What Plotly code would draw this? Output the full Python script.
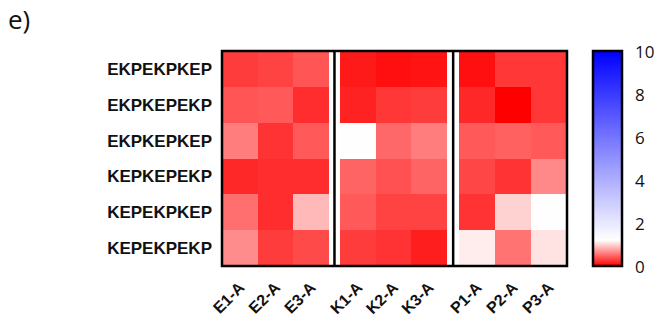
import plotly.graph_objects as go

rows = ["EKPEKPKEP", "EKPKEPEKP", "EKPKEPKEP", "KEPKEPEKP", "KEPEKPKEP", "KEPEKPEKP"]
cols_e = ["E1-A", "E2-A", "E3-A"]
cols_k = ["K1-A", "K2-A", "K3-A"]
cols_p = ["P1-A", "P2-A", "P3-A"]

vals_e = [
    [0.28, 0.31, 0.40],
    [0.40, 0.42, 0.21],
    [0.59, 0.24, 0.42],
    [0.19, 0.21, 0.21],
    [0.52, 0.21, 0.87],
    [0.66, 0.28, 0.35],
]
vals_k = [
    [0.12, 0.07, 0.09],
    [0.16, 0.26, 0.28],
    [1.25, 0.49, 0.59],
    [0.47, 0.38, 0.47],
    [0.42, 0.31, 0.31],
    [0.28, 0.24, 0.14],
]
vals_p = [
    [0.07, 0.26, 0.26],
    [0.19, 0.00, 0.26],
    [0.42, 0.45, 0.42],
    [0.33, 0.24, 0.64],
    [0.24, 0.99, 1.22],
    [1.11, 0.54, 1.07],
]
cbar_ticks = [0, 2, 4, 6, 8, 10]

colorscale = [[0.0, "rgb(255,0,0)"], [0.12, "rgb(255,255,255)"], [1.0, "rgb(0,0,255)"]]

domains = [[0.0, 0.310], [0.342, 0.652], [0.687, 1.0]]
groups = [(cols_e, vals_e), (cols_k, vals_k), (cols_p, vals_p)]

PW = 345.0
CB_X = (593 - 222) / PW
BAR_W = 29
fig = go.Figure()
for i, (cols, vals) in enumerate(groups):
    xa = "x" if i == 0 else f"x{i+1}"
    fig.add_trace(go.Heatmap(
        z=vals, x=cols, y=rows, xaxis=xa, yaxis="y",
        colorscale=colorscale, zmin=0, zmax=10,
        showscale=(i == 0),
        colorbar=dict(
            x=CB_X, xanchor="left", y=0.5, yanchor="middle",
            len=1.0, lenmode="fraction", thickness=BAR_W,
            outlinewidth=2.5, outlinecolor="black",
            tickvals=cbar_ticks, ticks="", showticklabels=False,
            xpad=0, ypad=0,
        ),
    ))

xcommon = dict(
    tickangle=-45, showgrid=False, zeroline=False, showline=False, ticks="",
    tickfont=dict(family="Liberation Sans", size=16, color="#111", weight="bold"),
    ticklabelstandoff=8,
)
fig.update_layout(
    width=659, height=326,
    margin=dict(l=222, r=92, t=51, b=60, autoexpand=False),
    paper_bgcolor="white", plot_bgcolor="white",
    xaxis=dict(domain=domains[0], anchor="y", **xcommon),
    xaxis2=dict(domain=domains[1], anchor="y", **xcommon),
    xaxis3=dict(domain=domains[2], anchor="y", **xcommon),
    yaxis=dict(autorange="reversed", showgrid=False, zeroline=False, ticks="",
               tickfont=dict(family="Liberation Sans", size=17, color="#111", weight="bold"),
               ticklabelstandoff=9),
)

shapes = [
    dict(type="rect", xref="paper", yref="paper", x0=0, x1=1, y0=0, y1=1,
         line=dict(color="black", width=2.5)),
    dict(type="line", xref="paper", yref="paper", x0=0.326, x1=0.326, y0=0, y1=1,
         line=dict(color="black", width=2.5)),
    dict(type="line", xref="paper", yref="paper", x0=0.670, x1=0.670, y0=0, y1=1,
         line=dict(color="black", width=2.5)),
]
for v in cbar_ticks[1:-1]:
    shapes.append(dict(type="line", xref="paper", yref="paper",
                       x0=CB_X, x1=CB_X + 4 / PW, y0=v / 10, y1=v / 10,
                       line=dict(color="black", width=2)))
    shapes.append(dict(type="line", xref="paper", yref="paper",
                       x0=CB_X + (BAR_W - 4) / PW, x1=CB_X + BAR_W / PW, y0=v / 10, y1=v / 10,
                       line=dict(color="black", width=2)))
fig.update_layout(shapes=shapes)

for v in cbar_ticks:
    fig.add_annotation(text=str(v), xref="paper", yref="paper",
                       x=(633 - 222) / PW, y=v / 10, xanchor="left", yanchor="middle",
                       showarrow=False,
                       font=dict(family="Open Sans", size=17, color="#111"))

fig.add_annotation(text="e)", xref="paper", yref="paper", x=-0.625, y=1.15,
                   xanchor="left", yanchor="middle", showarrow=False,
                   font=dict(family="Open Sans", size=26, color="#111"))

fig.write_html("out.html")
